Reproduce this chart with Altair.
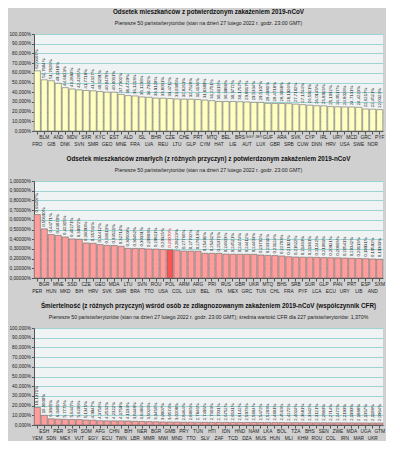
import altair as alt
import pandas as pd

FONT = "Liberation Sans"

# ---------- panel 1: share of population with confirmed infection (%) ----------
codes1 = ["FRO", "BLM", "GIB", "AND", "DNK", "MDV", "SVN", "SXR", "SMR", "KYC",
          "GEO", "EST", "MNE", "ALD", "FRA", "ISL", "LVA", "BHR", "REU", "CZE",
          "LTU", "CHE", "GLP", "PRT", "CYM", "MTQ", "HAT", "BEL", "LIE", "BRS",
          "AUT", "GGY·JEY", "LUX", "GUF", "GBR", "ARA", "SRB", "SVK", "CUW", "CYP",
          "DNN", "IRL", "HRV", "URY", "USA", "MCD", "SWE", "GRC", "NOR", "PYF"]
vals1 = [62.0407, 52.7684, 51.7826, 49.1318, 44.6823, 43.2894, 42.4265, 41.7718, 41.4327, 40.6291,
         40.0478, 40.0031, 37.7302, 36.4729, 36.1213, 35.1236, 34.7302, 33.9128, 33.8031, 33.4712,
         33.0305, 32.8261, 32.7628, 32.4136, 31.8309, 31.2751, 30.4113, 30.3986, 30.3772, 30.1757,
         29.8917, 29.5334, 29.5107, 28.4981, 28.4718, 28.3938, 28.1926, 27.7102, 27.1744, 26.5921,
         26.0145, 25.8913, 25.1032, 24.9517, 24.8026, 24.7131, 24.4223, 22.6217, 22.4521, 22.0323]

# ---------- panel 2: share of population deceased with confirmed infection (%) ----------
codes2 = ["PER", "BGR", "HUN", "MNE", "MKD", "SSD", "BIH", "CZE", "HRV", "GEO",
          "SVK", "MDA", "SMR", "LTU", "BRA", "SVN", "TTO", "ROU", "USA", "POL",
          "COL", "ARM", "LUX", "ARG", "BEL", "PRI", "ITA", "RUS", "MEX", "GBR",
          "GRC", "UKR", "TUN", "MTQ", "CHL", "BHS", "FRA", "SRB", "PYF", "SUR",
          "LCA", "GLP", "ECU", "PAN", "URY", "PRT", "LIB", "ESP", "AND", "SXM"]
vals2 = [0.65407, 0.50690, 0.44771, 0.43870, 0.42315, 0.40271, 0.39972, 0.36093, 0.35741, 0.34412,
         0.33613, 0.33521, 0.32714, 0.30503, 0.30462, 0.30331, 0.29903, 0.29821, 0.29325, 0.29070,
         0.28223, 0.27766, 0.27702, 0.27613, 0.25491, 0.25462, 0.25371, 0.24603, 0.24521, 0.24474,
         0.24412, 0.24403, 0.23702, 0.23331, 0.23124, 0.22703, 0.21921, 0.21622, 0.21463, 0.21381,
         0.21242, 0.21083, 0.20921, 0.20803, 0.20541, 0.20342, 0.20113, 0.19931, 0.19592, 0.19303]
highlight2 = "POL"

# ---------- panel 3: case fatality rate (%) ----------
codes3 = ["YEM", "ESH", "SDN", "PER", "MEX", "SYR", "VUT", "SOM", "EGY", "AFG",
          "ECU", "CHN", "TWN", "BIH", "LBR", "NER", "MMR", "BGR", "MWI", "GMB",
          "MND", "PRY", "TTO", "TUN", "SLV", "HTI", "ZAF", "IDN", "TCD", "HND",
          "DZA", "NAM", "MUS", "LKA", "HUN", "BOL", "MLI", "TZA", "KHM", "BHS",
          "ROU", "SEN", "COL", "ZWE", "IRN", "MDA", "MAR", "UGA", "UKR", "GTM"]
vals3 = [18.1371, 10.0000, 6.3945, 6.0485, 5.7773, 5.6447, 5.6206, 5.1345, 4.9947, 4.3750,
         4.2532, 4.2322, 4.1759, 4.1133, 3.8448, 3.6486, 3.5026, 3.3450, 3.0807, 3.0574,
         3.0208, 2.8464, 2.8065, 2.7846, 2.7496, 2.7303, 2.7031, 2.6752, 2.6531, 2.6142,
         2.5973, 2.5804, 2.5472, 2.5203, 2.4801, 2.4563, 2.4272, 2.4024, 2.3681, 2.3342,
         2.3121, 2.2883, 2.2714, 2.2472, 2.2193, 2.1993, 2.1888, 2.1357, 2.1108, 2.0964]

subtitle12 = "Pierwsze 50 państw/terytoriów (stan na dzień 27 lutego 2022 r. godz. 23:00 GMT)"
subtitle3 = ("Pierwsze 50 państw/terytoriów (stan na dzień 27 lutego 2022 r. godz. 23:00 GMT); "
             "średnia wartość CFR dla 227 państw/terytoriów: 1,370%")

W, H = 349, 97


def panel(codes, vals, title, subtitle, ymax, ydec, vdec, fill, hl_fill, highlight=None):
    df = pd.DataFrame({"code": codes, "val": vals})
    df["i"] = range(len(df))
    df["row"] = df["i"] % 2
    df["long"] = df["code"].str.len() > 3
    df["lbl"] = [f"{v:.{vdec}f}".replace(".", ",") + "%" for v in vals]
    df["hl"] = df["code"] == (highlight or "")
    base = alt.Chart(df)
    x = alt.X("code:N", sort=codes, title=None,
              scale=alt.Scale(paddingInner=0.12, paddingOuter=0.03),
              axis=alt.Axis(labels=False, ticks=True, tickSize=3, tickColor="#555555",
                            domainColor="#555555", grid=False))
    y = alt.Y("val:Q", title=None,
              scale=alt.Scale(domain=[0, ymax], nice=False, zero=True),
              axis=alt.Axis(values=[ymax * k / 10 for k in range(11)],
                            labelExpr=f"replace(format(datum.value, '.{ydec}f'), '.', ',') + '%'",
                            labelFont=FONT, labelFontSize=4.8, labelColor="#222222",
                            labelPadding=1, tickSize=2.5, tickColor="#555555",
                            domainColor="#555555", gridColor="#9fd3d3", gridWidth=1))
    bars = base.mark_bar(stroke="#6a6a6a", strokeWidth=0.6).encode(
        x=x, y=y,
        color=alt.when(alt.datum.hl).then(alt.value(hl_fill)).otherwise(alt.value(fill)))
    vlabels = base.mark_text(angle=270, align="left", baseline="middle", dx=2,
                             font=FONT, fontSize=4.3).encode(
        x=x, y=y, text="lbl:N",
        color=alt.when(alt.datum.hl).then(alt.value("#e00000")).otherwise(alt.value("#111111")))
    fs = alt.when(alt.datum.long).then(alt.value(3.8)).otherwise(alt.value(4.8))
    top_row = base.transform_filter(alt.datum.row == 1).mark_text(
        baseline="top", font=FONT, color="#222222").encode(
        x=x, y=alt.value(H + 4), text="code:N", size=fs)
    bot_row = base.transform_filter(alt.datum.row == 0).mark_text(
        baseline="top", font=FONT, color="#222222").encode(
        x=x, y=alt.value(H + 10.5), text="code:N", size=fs)
    return alt.layer(bars, vlabels, top_row, bot_row).properties(
        width=W, height=H,
        title=alt.TitleParams(text=title, subtitle=subtitle, anchor="middle",
                              font=FONT, fontSize=6.3, fontWeight="bold", color="#111111",
                              subtitleFont=FONT, subtitleFontSize=5.2, subtitleColor="#222222",
                              subtitlePadding=6, offset=5))


p1 = panel(codes1, vals1, "Odsetek mieszkańców z potwierdzonym zakażeniem 2019-nCoV",
           subtitle12, 100, 3, 4, "#ffffc2", "#ffffc2")
p2 = panel(codes2, vals2,
           "Odsetek mieszkańców zmarłych (z różnych przyczyn) z potwierdzonym zakażeniem 2019-nCoV",
           subtitle12, 1, 5, 5, "#ff9c9c", "#ff5252", highlight2)
p3 = panel(codes3, vals3,
           "Śmiertelność (z różnych przyczyn) wśród osób ze zdiagnozowanym zakażeniem 2019-nCoV (współczynnik CFR)",
           subtitle3, 100, 3, 4, "#ff9c9c", "#ff9c9c")

chart = alt.vconcat(p1, p2, p3, spacing=8).properties(
    background="#d0d0d0",
    padding={"left": 0, "top": 0, "right": 0, "bottom": 0},
).configure_view(fill="#f0f3f3", stroke=None)

chart.save("out.html", embed_options={"renderer": "svg", "actions": False})
